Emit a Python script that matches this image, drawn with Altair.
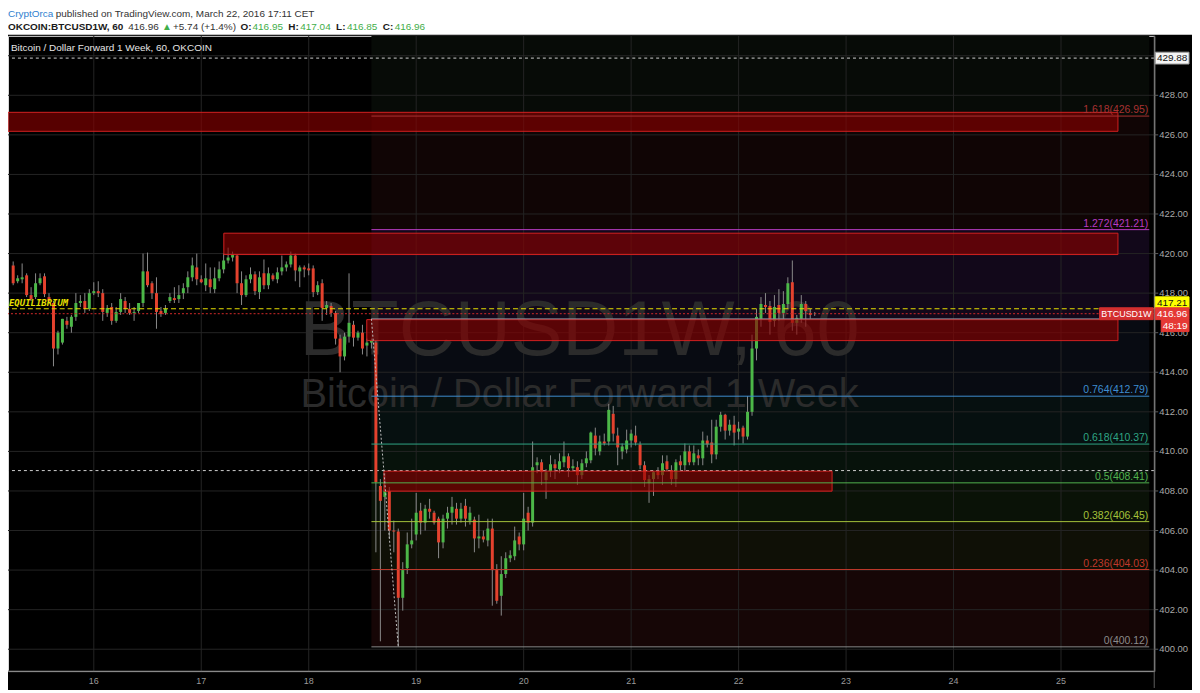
import altair as alt
import pandas as pd

# ---------------- data ----------------
FIRST_HOUR = 6  # first candle: 15 Mar 2016, 06:00 (hourly candles)

opens = [
    419.4, 418.6, 418.7, 418.9, 417.9, 417.8, 418.5, 418.85, 417.8, 417.5,
    415.2, 415.5, 416.6, 416.3, 416.8, 417.5, 417.6, 417.2, 418.0, 418.1,
    418.0, 417.0, 417.3, 416.6, 417.05, 417.6, 417.2, 417.0, 417.1, 417.5,
    419.1, 418.5, 418.0, 417.1, 417.0, 417.6, 417.75, 417.7, 418.0, 418.3,
    418.8, 419.3, 418.7, 418.4, 418.7, 418.2, 418.75, 419.2, 419.65, 419.8,
    419.9, 418.5, 417.9, 418.7, 418.95, 418.05, 419.0, 418.4, 418.9, 418.7,
    419.1, 419.3, 419.45, 419.9, 419.1, 419.3, 419.25, 419.25, 418.05, 418.5,
    417.25, 417.35, 417.0, 415.7, 414.8, 415.8, 416.4, 415.75, 416.0, 415.35,
    415.5, 415.5, 408.25, 407.7, 408.0, 406.0, 405.95, 402.6, 404.1, 405.3,
    405.8, 407.0, 406.4, 407.1, 406.9, 406.6, 405.4, 406.6, 406.9, 407.1,
    406.6, 407.25, 406.5, 406.55, 405.6, 405.7, 405.5, 406.1, 404.0, 402.7,
    403.8, 404.6, 404.7, 405.7, 405.3, 406.9, 406.4, 409.3, 409.45, 408.55,
    409.0, 409.35, 409.1, 409.45, 409.75, 409.15, 409.2, 408.8, 409.4, 409.55,
    410.8, 410.0, 410.5, 410.5, 411.9, 410.8, 410.0, 410.1, 410.55, 410.8,
    410.35, 409.3, 408.4, 408.6, 409.0, 408.8, 409.5, 409.05, 408.6, 409.5,
    409.3, 410.0, 409.45, 409.8, 409.65, 410.55, 410.45, 409.85, 411.25, 411.85,
    411.05, 411.35, 411.0, 411.2, 410.75, 412.0, 415.2, 416.7, 417.4, 417.35,
    416.6, 417.4, 417.0, 417.45, 418.55, 416.5, 416.7, 417.45, 417.0, 416.95,
]
highs = [
    419.6, 418.9, 419.5, 419.0, 418.3, 419.0, 419.0, 419.0, 418.0, 417.6,
    416.1, 416.7, 416.8, 416.9, 418.0, 417.9, 418.0, 418.2, 418.55, 418.6,
    418.2, 417.4, 417.5, 417.3, 418.0, 417.8, 417.5, 417.3, 417.5, 420.0,
    420.05, 418.6, 418.8, 417.3, 417.4, 418.0, 418.3, 418.4, 418.5, 419.1,
    419.8, 420.0, 418.9, 419.5, 419.3, 419.3, 419.6, 420.0, 420.3, 420.1,
    419.95, 419.1, 418.9, 419.3, 419.1, 419.1, 419.7, 419.3, 419.0, 419.3,
    419.9, 419.6, 420.1, 420.0, 419.4, 419.4, 419.5, 419.4, 418.6, 418.7,
    417.6, 417.5, 417.1, 415.9, 416.0, 419.0, 416.6, 416.1, 416.4, 415.7,
    415.7, 415.6, 408.6, 408.9, 408.2, 406.5, 406.1, 404.4, 405.9, 406.6,
    407.9, 407.4, 407.3, 407.6, 407.0, 406.7, 406.8, 407.2, 407.7, 407.4,
    407.4, 407.6, 407.2, 406.7, 406.8, 406.0, 406.6, 406.6, 404.3, 404.7,
    404.9, 405.0, 406.2, 405.9, 407.9, 407.2, 410.5, 409.7, 409.6, 409.1,
    409.8, 409.6, 409.9, 410.5, 409.9, 409.6, 409.5, 409.6, 410.0, 411.0,
    411.2, 410.8, 410.9, 412.4, 412.3, 411.2, 410.4, 411.1, 411.1, 411.3,
    410.5, 409.5, 408.8, 409.0, 409.2, 409.8, 409.8, 409.3, 409.6, 409.8,
    410.4, 410.3, 410.3, 410.1, 411.0, 410.8, 411.6, 411.6, 412.0, 411.9,
    411.6, 411.8, 411.5, 411.3, 412.8, 415.9, 417.2, 417.8, 418.0, 417.6,
    417.9, 418.2, 418.1, 418.8, 419.65, 416.9, 417.9, 417.6, 417.2, 417.04,
]
lows = [
    418.4, 418.5, 418.5, 417.8, 417.6, 417.7, 418.4, 417.8, 417.5, 414.3,
    414.9, 415.4, 416.2, 416.0, 416.6, 417.3, 417.0, 417.1, 417.9, 417.8,
    416.6, 416.8, 416.4, 416.5, 416.9, 417.0, 416.9, 416.6, 417.0, 417.3,
    418.3, 417.7, 416.2, 416.8, 416.9, 417.5, 417.5, 417.5, 417.7, 418.0,
    418.6, 418.4, 418.5, 418.1, 418.0, 418.0, 418.6, 419.0, 419.5, 419.6,
    418.0, 417.4, 417.8, 418.5, 417.9, 417.7, 418.2, 418.2, 418.6, 418.5,
    418.9, 419.1, 419.3, 418.6, 418.3, 418.8, 418.9, 417.8, 417.9, 416.6,
    416.9, 416.8, 415.4, 414.0, 414.6, 415.5, 415.3, 415.6, 414.9, 414.8,
    415.2, 404.9, 400.4, 406.0, 405.6, 404.9, 400.12, 401.95, 403.8, 405.1,
    405.5, 405.8, 406.0, 406.6, 406.3, 404.6, 405.1, 406.1, 406.3, 406.3,
    406.4, 406.2, 406.3, 404.9, 405.1, 405.4, 405.2, 402.2, 402.3, 401.7,
    403.6, 404.4, 404.5, 405.0, 405.0, 406.0, 406.2, 408.9, 408.3, 407.6,
    408.7, 408.6, 408.9, 409.2, 408.7, 409.0, 408.3, 408.6, 409.2, 409.4,
    409.8, 409.8, 410.3, 410.3, 410.5, 409.3, 409.6, 409.9, 410.2, 410.3,
    409.1, 408.2, 407.4, 407.75, 408.6, 408.3, 409.0, 408.3, 408.2, 409.0,
    409.0, 409.3, 409.3, 409.3, 409.3, 410.2, 409.4, 409.6, 411.0, 410.6,
    410.8, 410.3, 410.6, 410.4, 410.6, 411.8, 414.6, 416.3, 417.0, 415.9,
    416.3, 416.6, 416.7, 417.2, 416.1, 415.9, 416.5, 416.3, 416.7, 416.85,
]
closes = [
    418.5, 418.75, 418.8, 417.9, 417.7, 418.5, 418.75, 417.95, 417.6, 415.2,
    416.0, 416.7, 416.4, 416.8, 417.5, 417.6, 417.2, 418.0, 418.1, 418.0,
    417.05, 417.25, 416.6, 417.05, 417.7, 417.2, 417.0, 417.05, 417.5, 419.1,
    418.4, 418.0, 417.05, 416.95, 417.2, 417.8, 417.65, 417.9, 418.25, 418.8,
    419.4, 418.7, 418.55, 418.75, 418.3, 418.75, 419.2, 419.65, 419.8, 419.95,
    418.5, 417.9, 418.7, 418.95, 418.1, 418.8, 418.4, 419.0, 418.7, 419.05,
    419.3, 419.45, 419.9, 419.15, 419.3, 419.2, 419.15, 418.05, 418.4, 417.25,
    417.4, 417.0, 415.7, 414.8, 415.8, 416.5, 415.75, 416.0, 415.2, 415.5,
    415.6, 408.45, 407.5, 408.0, 406.0, 405.95, 402.6, 404.0, 405.3, 405.5,
    406.9, 406.4, 407.1, 406.95, 406.4, 405.4, 406.6, 406.9, 407.2, 406.6,
    407.1, 406.6, 406.9, 405.6, 405.7, 405.55, 406.1, 404.0, 402.45, 403.8,
    404.6, 404.75, 405.5, 405.3, 406.6, 406.4, 409.2, 409.45, 408.95, 408.95,
    409.35, 409.15, 409.5, 409.75, 409.15, 409.25, 408.8, 409.4, 409.65, 410.95,
    410.15, 410.5, 410.4, 412.1, 410.9, 410.2, 410.25, 410.55, 410.9, 410.45,
    409.3, 408.55, 408.6, 408.95, 408.8, 409.4, 409.1, 408.6, 409.45, 409.3,
    410.0, 409.45, 409.9, 409.65, 410.55, 410.35, 409.85, 411.25, 411.85, 411.05,
    411.35, 410.95, 411.15, 410.75, 412.0, 415.2, 416.8, 417.45, 417.3, 416.55,
    417.3, 417.0, 417.45, 418.5, 416.5, 416.75, 417.45, 417.1, 416.9, 416.96,
]

day_ticks = [16, 17, 18, 19, 20, 21, 22, 23, 24, 25]
price_ticks = [400, 402, 404, 406, 408, 410, 412, 414, 416, 418, 420, 422, 424, 426, 428]
grid_prices = price_ticks + [430]

fib_ratios = ["0", "0.236", "0.382", "0.5", "0.618", "0.764", "1", "1.272", "1.618"]
fib_prices = [400.12, 404.03, 406.45, 408.41, 410.37, 412.79, 416.70, 421.21, 426.95]
fib_label_shown = [True, True, True, True, True, True, False, True, True]
fib_colors = ["#8a8a8a", "#c0392b", "#a5c23a", "#52b24f", "#2fa584", "#3f8ed0",
              "#8c8c9c", "#b83cc4", "#a83232"]
zone_colors = ["#160606", "#0f1006", "#0a1207", "#07120b", "#061010", "#080b12",
               "#12081a", "#100505", "#070b07"]
FIB_START_HOUR = 86
FIB_END_HOUR = 92

rect_x0 = [15.20, 17.21, 18.54, 18.70]
rect_x1 = [25.53, 25.53, 25.53, 22.87]
rect_lo = [426.18, 419.95, 415.60, 407.99]
rect_hi = [427.14, 421.03, 416.66, 409.00]

white_levels = [429.88, 409.03]
equilibrium = 417.21
last_price = 416.96

# ---------------- geometry ----------------
W, H = 1153, 639
PX_PER_DAY = 109.05
X0 = 16 - 82 / PX_PER_DAY
X1 = X0 + W / PX_PER_DAY
Y0 = 400 - 22 / 19.9
Y1 = 400 + 617 / 19.9

FONT = "Liberation Sans"
UP, DOWN, WICK = "#4cb848", "#e4422e", "#8a8a8a"
GRID = "#242424"
AXIS_LINE = "#5e5e5e"

xs = alt.Scale(domain=[X0, X1], nice=False, zero=False)
ys = alt.Scale(domain=[Y0, Y1], nice=False, zero=False)


def xq(f):
    return alt.X(f, type="quantitative", scale=xs, axis=None)


def yq(f):
    return alt.Y(f, type="quantitative", scale=ys, axis=None)


n = len(closes)
candles = pd.DataFrame({
    "day": [15 + (FIRST_HOUR + i) / 24 for i in range(n)],
    "open": opens, "high": highs, "low": lows, "close": closes,
})
candles["dir"] = ["up" if c >= o else "down" for o, c in zip(opens, closes)]

fib_start = 15 + FIB_START_HOUR / 24
fib_end_day = 15 + FIB_END_HOUR / 24
zones = pd.DataFrame({
    "x0": [fib_start] * len(fib_prices), "x1": [X1] * len(fib_prices),
    "lo": fib_prices, "hi": fib_prices[1:] + [Y1], "col": zone_colors,
})
fibs = pd.DataFrame({
    "x0": [fib_start] * len(fib_prices), "x1": [X1] * len(fib_prices),
    "p": fib_prices, "col": fib_colors,
    "lab": [f"{r}({p:.2f})" for r, p in zip(fib_ratios, fib_prices)],
})
fib_labels = fibs[fib_label_shown]
rects = pd.DataFrame({"x0": rect_x0, "x1": rect_x1, "lo": rect_lo, "hi": rect_hi})
pticks = pd.DataFrame({"p": price_ticks, "lab": [f"{p:.2f}" for p in price_ticks]})
dticks = pd.DataFrame({"d": day_ticks, "lab": [str(d) for d in day_ticks]})

layers = []

# fib background zones
layers.append(alt.Chart(zones).mark_rect(clip=True).encode(
    x=xq("x0:Q"), x2="x1:Q", y=yq("lo:Q"), y2="hi:Q",
    color=alt.Color("col:N", scale=None)))

# grid
layers.append(alt.Chart(pd.DataFrame({"d": day_ticks})).mark_rule(
    color=GRID, strokeWidth=1).encode(x=xq("d:Q")))
layers.append(alt.Chart(pd.DataFrame({"p": grid_prices})).mark_rule(
    color=GRID, strokeWidth=1, clip=True).encode(y=yq("p:Q")))

# watermark
layers.append(alt.Chart(pd.DataFrame({"t": ["BTCUSD1W, 60"]})).mark_text(
    font=FONT, fontSize=78, color="#2b2b2b", align="center",
    baseline="alphabetic").encode(x=alt.value(575), y=alt.value(321), text="t:N"))
layers.append(alt.Chart(pd.DataFrame({"t": ["Bitcoin / Dollar Forward 1 Week"]})).mark_text(
    font=FONT, fontSize=40, color="#2b2b2b", align="center",
    baseline="alphabetic").encode(x=alt.value(575), y=alt.value(373), text="t:N"))

# white dashed horizontal levels
layers.append(alt.Chart(pd.DataFrame({"p": white_levels})).mark_rule(
    color="#d0d0d0", strokeDash=[3, 3], strokeWidth=1).encode(y=yq("p:Q")))

# candles
layers.append(alt.Chart(candles).mark_rule(color=WICK, strokeWidth=1, clip=True).encode(
    x=xq("day:Q"), y=yq("low:Q"), y2="high:Q"))
layers.append(alt.Chart(candles).mark_bar(size=3, clip=True).encode(
    x=xq("day:Q"), y=yq("open:Q"), y2="close:Q",
    color=alt.Color("dir:N", scale=alt.Scale(domain=["up", "down"], range=[UP, DOWN]),
                    legend=None)))

# supply / demand rectangles
layers.append(alt.Chart(rects).mark_rect(
    fill="#8c0000", fillOpacity=0.62, stroke="#d42020", strokeWidth=1, clip=True).encode(
    x=xq("x0:Q"), x2="x1:Q", y=yq("lo:Q"), y2="hi:Q"))

# fib lines and labels
layers.append(alt.Chart(fibs).mark_rule(strokeWidth=1, clip=True).encode(
    x=xq("x0:Q"), x2="x1:Q", y=yq("p:Q"), color=alt.Color("col:N", scale=None)))
layers.append(alt.Chart(fib_labels).mark_text(
    font=FONT, fontSize=10.5, align="right", baseline="alphabetic", dy=-3).encode(
    x=alt.value(1147), y=yq("p:Q"), text="lab:N", color=alt.Color("col:N", scale=None)))

# fib trend line
layers.append(alt.Chart(pd.DataFrame({"x0": [fib_start], "x1": [fib_end_day],
                                      "y0": [fib_prices[6]], "y1": [fib_prices[0]]})).mark_rule(
    color="#bdbdbd", strokeDash=[2, 2], strokeWidth=1).encode(
    x=xq("x0:Q"), x2="x1:Q", y=yq("y0:Q"), y2="y1:Q"))

# equilibrium + last price lines
layers.append(alt.Chart(pd.DataFrame({"p": [equilibrium]})).mark_rule(
    color="#e8e000", strokeDash=[5, 3], strokeWidth=1).encode(y=yq("p:Q")))
layers.append(alt.Chart(pd.DataFrame({"p": [last_price]})).mark_rule(
    color="#d42a2a", strokeDash=[2, 2], strokeWidth=1).encode(y=yq("p:Q")))
layers.append(alt.Chart(pd.DataFrame({"p": [equilibrium], "t": ["EQUILIBRIUM"]})).mark_text(
    font="DejaVu Sans Mono", fontSize=9, fontStyle="italic", fontWeight="bold",
    color="#e8e000", align="left", baseline="alphabetic", dy=-3).encode(
    x=alt.value(1), y=yq("p:Q"), text="t:N"))

# chart title inside pane
layers.append(alt.Chart(pd.DataFrame({"t": ["Bitcoin / Dollar Forward 1 Week, 60, OKCOIN"]})).mark_text(
    font=FONT, fontSize=10, color="#e6e6e6", align="left", baseline="middle").encode(
    x=alt.value(3), y=alt.value(12), text="t:N"))

# ---- price scale (right) and time scale (bottom) ----
layers.append(alt.Chart(pd.DataFrame({"t": [""]})).mark_rule(color=AXIS_LINE).encode(
    x=alt.value(W), y=alt.value(0), y2=alt.value(H + 17)))
layers.append(alt.Chart(pd.DataFrame({"t": [""]})).mark_rule(color=AXIS_LINE).encode(
    x=alt.value(0), x2=alt.value(W), y=alt.value(H)))
layers.append(alt.Chart(pticks).mark_rule(color=AXIS_LINE).encode(
    x=alt.value(W), x2=alt.value(W + 4), y=yq("p:Q")))
layers.append(alt.Chart(pticks).mark_text(
    font=FONT, fontSize=9.5, color="#a8a8a8", align="left", baseline="middle").encode(
    x=alt.value(W + 5), y=yq("p:Q"), text="lab:N"))
layers.append(alt.Chart(dticks).mark_text(
    font=FONT, fontSize=9, color="#9a9a9a", align="center", baseline="middle").encode(
    x=xq("d:Q"), y=alt.value(H + 10), text="lab:N"))


# price-scale label boxes
def box(text, price, fill, tcol, x0, x1, off=0, stroke=None, size=10):
    d = pd.DataFrame({"lo": [price - 0.3], "hi": [price + 0.3], "p": [price], "t": [text]})
    r = alt.Chart(d).mark_rect(fill=fill, stroke=stroke or fill, strokeWidth=1,
                               yOffset=off, y2Offset=off).encode(
        x=alt.value(x0), x2=alt.value(x1), y=yq("lo:Q"), y2="hi:Q")
    t = alt.Chart(d).mark_text(font=FONT, fontSize=size, color=tcol, align="center",
                               baseline="middle", dy=off).encode(
        x=alt.value((x0 + x1) / 2), y=yq("p:Q"), text="t:N")
    return [r, t]


layers += box("429.88", white_levels[0], "#f4f4f4", "#111111", W + 1, W + 35, 0, "#9a9a9a")
layers += box("417.21", equilibrium, "#ffff00", "#111111", W + 1, W + 35, -6)
layers += box("416.96", last_price, "#e53935", "#ffffff", W + 1, W + 35, 0)
layers += box("48:19", last_price, "#e53935", "#ffffff", W + 7, W + 35, 12)
layers += box("BTCUSD1W", last_price, "#d32f2f", "#ffffff", W - 55, W - 1, 0, None, 9)

# header band (published-by line and symbol line)
layers.append(alt.Chart(pd.DataFrame({"t": [""]})).mark_rect(color="#ffffff").encode(
    x=alt.value(-8), x2=alt.value(1200), y=alt.value(-34), y2=alt.value(-1)))


def htext(text, x, y, color, bold=False):
    return alt.Chart(pd.DataFrame({"t": [text]})).mark_text(
        font=FONT, fontSize=10, color=color, align="left", baseline="alphabetic",
        fontWeight="bold" if bold else "normal").encode(
        x=alt.value(x), y=alt.value(y), text="t:N")


GREEN_TXT = "#3fae49"
DARK = "#1a1a1a"
layers += [
    htext("CryptOrca", 0, -19, "#2f7fcf"),
    htext("published on TradingView.com, March 22, 2016 17:11 CET", 48, -19, "#333333"),
    htext("OKCOIN:BTCUSD1W, 60", 0, -6, DARK, True),
    htext("416.96", 121, -6, "#333333"),
    htext("\u25b2", 155, -6, GREEN_TXT),
    htext("+5.74 (+1.4%)", 166, -6, "#333333"),
    htext("O:", 234, -6, DARK, True),
    htext("416.95", 246, -6, GREEN_TXT),
    htext("H:", 282, -6, DARK, True),
    htext("417.04", 294, -6, GREEN_TXT),
    htext("L:", 330, -6, DARK, True),
    htext("416.85", 341, -6, GREEN_TXT),
    htext("C:", 377, -6, DARK, True),
    htext("416.96", 389, -6, GREEN_TXT),
]

chart = alt.layer(*layers).properties(
    width=W, height=H,
    autosize=alt.AutoSizeParams(type="none"),
    padding={"left": 0, "top": 26, "right": 38, "bottom": 17},
).configure_view(stroke=None, fill="#000000").configure(background="#000000")

chart.save("out.html", embed_options={"renderer": "svg", "actions": False})
